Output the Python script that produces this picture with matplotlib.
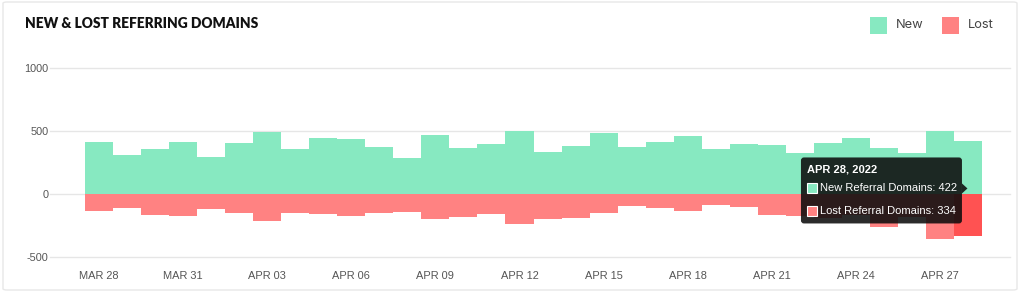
import matplotlib
matplotlib.use("Agg")
import matplotlib.pyplot as plt
from matplotlib.patches import Rectangle, FancyBboxPatch, Polygon
from matplotlib.transforms import IdentityTransform
import numpy as np

dates = ["MAR 28", "MAR 29", "MAR 30", "MAR 31", "APR 01", "APR 02", "APR 03", "APR 04",
         "APR 05", "APR 06", "APR 07", "APR 08", "APR 09", "APR 10", "APR 11", "APR 12",
         "APR 13", "APR 14", "APR 15", "APR 16", "APR 17", "APR 18", "APR 19", "APR 20",
         "APR 21", "APR 22", "APR 23", "APR 24", "APR 25", "APR 26", "APR 27", "APR 28"]
new_domains = [413, 310, 355, 410, 290, 407, 495, 360, 445, 434, 371, 283, 472, 364, 397, 498,
               336, 384, 487, 371, 413, 460, 355, 395, 387, 322, 405, 447, 368, 328, 502, 422]
lost_domains = [133, 114, 167, 172, 122, 153, 214, 148, 156, 172, 153, 140, 199, 179, 156, 238,
                201, 187, 150, 99, 110, 131, 85, 100, 163, 171, 190, 170, 258, 180, 356, 334]
y_ticks = [-500, 0, 500, 1000]
tooltip_title = "APR 28, 2022"

GREEN = "#87E9C1"
RED = "#FF8282"
RED_HI = "#FF5252"

W, H = 1024, 296
fig = plt.figure(figsize=(W / 100, H / 100), dpi=100)
fig.patch.set_facecolor("white")

# card border
fig.patches.append(FancyBboxPatch((3 / W, 6 / H), 1014 / W, 288 / H,
                                  boxstyle="round,pad=0,rounding_size=0.004",
                                  transform=fig.transFigure, fill=False,
                                  edgecolor="#e8e8e8", linewidth=1.0))

ax = fig.add_axes([50 / W, 1 - 257 / H, 960 / W, 189 / H])
x = np.arange(len(dates))
colors_lost = [RED] * (len(dates) - 1) + [RED_HI]
ax.bar(x, new_domains, width=1.0, color=GREEN, linewidth=0, zorder=2)
ax.bar(x, -np.array(lost_domains), width=1.0, color=colors_lost, linewidth=0, zorder=2)

ax.set_xlim(-1.75, 32.5)
ax.set_ylim(-500, 1000)
for s in ax.spines.values():
    s.set_visible(False)
for yt in y_ticks:
    ax.axhline(yt, color="#e6e6e6", linewidth=1.0, zorder=1, clip_on=False)
ax.set_yticks(y_ticks)
ax.set_yticklabels([str(v) for v in y_ticks])
ax.tick_params(axis="y", length=0, pad=1, labelsize=7.8, labelcolor="#555555")
for lab in ax.get_yticklabels():
    lab.set_fontfamily("Liberation Sans")
ax.set_xticks(x[::3])
ax.set_xticklabels(dates[::3])
ax.tick_params(axis="x", length=0, pad=10, labelsize=7.9, labelcolor="#555555")
for lab in ax.get_xticklabels():
    lab.set_fontfamily("Liberation Sans")

# title
fig.text(25 / W, 1 - 23 / H, "NEW & LOST REFERRING DOMAINS", fontsize=9.9,
         fontweight="heavy", family="Lato", color="#111111", va="center", ha="left")

# legend
for (x0, lab, col) in [(870, "New", GREEN), (942, "Lost", RED)]:
    fig.patches.append(Rectangle((x0 / W, 1 - 34 / H), 17 / W, 17 / H,
                                 transform=fig.transFigure, facecolor=col, edgecolor="none"))
    fig.text((x0 + 26) / W, 1 - 25 / H, lab, fontsize=9.3, family="Inter",
             color="#444444", va="center", ha="left")

# tooltip anchored at the last bar
fig.canvas.draw()
last = len(dates) - 1
tip = ax.transData.transform((x[last], (new_domains[last] - lost_domains[last]) / 2))
tx, ty = tip
ident = IdentityTransform()
box_l, box_r = tx - 167, tx - 6
box_t, box_b = ty + 31, ty - 35
tooltip_bg = (0.05, 0.05, 0.05, 0.88)
fig.patches.append(FancyBboxPatch((box_l, box_b), box_r - box_l, box_t - box_b,
                                  boxstyle="round,pad=0,rounding_size=3",
                                  transform=ident, facecolor=tooltip_bg, edgecolor="none",
                                  zorder=5))
fig.patches.append(Polygon([(box_r, ty + 5), (box_r + 5.5, ty), (box_r, ty - 5)],
                           closed=True, transform=ident, facecolor=tooltip_bg,
                           edgecolor="none", zorder=5))
fig.text(box_l + 6, ty + 19, tooltip_title, transform=ident, fontsize=8,
         fontweight="bold", family="Liberation Sans", color="white", va="center",
         ha="left", zorder=6)
rows = [(ty, GREEN, f"New Referral Domains: {new_domains[last]}"),
        (ty - 22.6, RED, f"Lost Referral Domains: {lost_domains[last]}")]
for (yc, col, txt) in rows:
    fig.patches.append(Rectangle((box_l + 6.5, yc - 5), 10, 10, transform=ident,
                                 facecolor=col, edgecolor="white", linewidth=0.8,
                                 zorder=6))
    fig.text(box_l + 19.5, yc, txt, transform=ident, fontsize=8,
             family="Liberation Sans", color="white", va="center", ha="left", zorder=6)

fig.savefig("out.png", dpi=100)
